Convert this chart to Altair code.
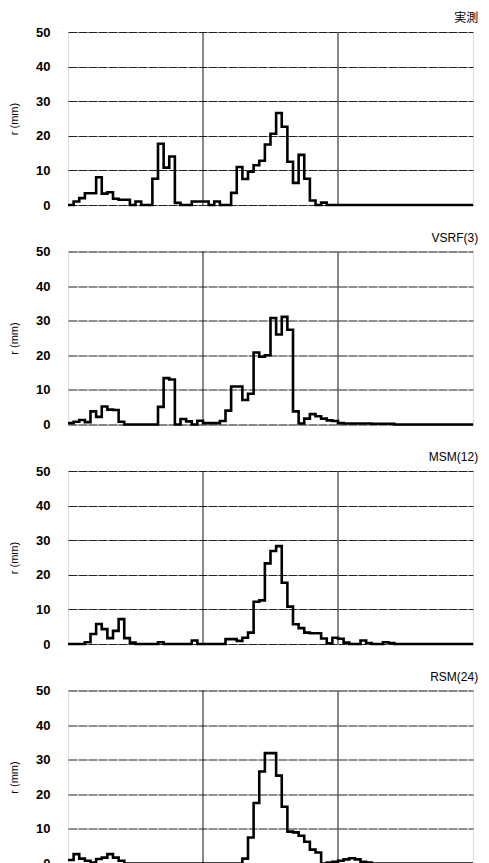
import altair as alt
import pandas as pd

titles = ["実測", "VSRF(3)", "MSM(12)", "RSM(24)"]

obs = [0, 1, 2, 3.4, 3.4, 8, 3.3, 3.7, 1.8, 1.5, 1.5, 0, 1, 0, 0, 7.6, 17.7, 10.8, 14, 0.6, 0, 0, 1, 1,
       1, 0, 1, 0, 0, 3.5, 11, 7.5, 9.6, 11.5, 12.8, 17.5, 20.6, 26.6, 22.6, 12.5, 6.4, 14.5, 7.6, 1.3, 0, 0.7, 0, 0,
       0, 0, 0, 0, 0, 0, 0, 0, 0, 0, 0, 0, 0, 0, 0, 0, 0, 0, 0, 0, 0, 0, 0, 0]
vsrf = [0.4, 0.8, 1.3, 0.7, 3.8, 2.2, 5.2, 4.3, 4.2, 0.8, 0, 0, 0, 0, 0, 0, 5.1, 13.4, 13.0, 0, 1.6, 0.9, 0, 1.1,
        0.4, 0.4, 0.4, 1, 4, 11, 11, 7.1, 8.9, 20.8, 19.6, 20, 30.8, 26, 31.1, 27.4, 3.8, 0.3, 1.7, 3, 2.4, 1.7, 1.2, 1,
        0.4, 0.3, 0.3, 0.3, 0.3, 0.3, 0.2, 0.2, 0.2, 0.2, 0, 0, 0, 0, 0, 0, 0, 0, 0, 0, 0, 0, 0, 0]
msm = [0, 0, 0, 0.5, 2.9, 5.8, 4.3, 1.7, 3.8, 7.2, 1.7, 0.4, 0, 0, 0, 0, 0.5, 0, 0, 0, 0, 0, 1, 0,
       0, 0, 0, 0, 1.4, 1.4, 0.9, 1.8, 3.3, 12.2, 12.6, 23.3, 26.9, 28.3, 17.7, 10.8, 5.7, 4.6, 3.3, 3.1, 3.1, 1.6, 0.2, 1.8,
       1.5, 0.4, 0, 0, 1, 0.3, 0, 0, 0.5, 0.3, 0, 0, 0, 0, 0, 0, 0, 0, 0, 0, 0, 0, 0, 0]
rsm = [1, 2.7, 1.4, 0.8, 0.3, 1.3, 1.7, 2.7, 1.7, 0.8, 0, 0, 0, 0, 0, 0, 0, 0, 0, 0, 0, 0, 0, 0,
       0, 0, 0, 0, 0, 0, 0, 1.4, 7.5, 17.5, 26.6, 31.9, 31.9, 25.4, 16.4, 9.2, 9, 8, 6.3, 4, 3.2, 0, 0.3, 0.5,
       0.8, 1.2, 1.5, 1.2, 0.5, 0.3, 0, 0, 0, 0, 0, 0, 0, 0, 0, 0, 0, 0, 0, 0, 0, 0, 0, 0]
series = [obs, vsrf, msm, rsm]

y_ticks = [0, 10, 20, 30, 40, 50]
day_lines = [24, 48]
n_bins = 72

FONT = "Liberation Sans, Arial, Noto Sans CJK JP, sans-serif"


def panel(title, vals):
    xs = list(range(n_bins)) + [n_bins]
    ys = list(vals) + [vals[-1]]
    df = pd.DataFrame({"t": xs, "r": ys})
    xsc = alt.Scale(domain=[0, n_bins], nice=False, zero=False)
    line = alt.Chart(df).mark_line(
        interpolate="step-after", color="black", strokeWidth=2.6
    ).encode(
        x=alt.X("t:Q", scale=xsc, axis=None),
        y=alt.Y(
            "r:Q",
            scale=alt.Scale(domain=[0, 50], nice=False),
            axis=alt.Axis(
                title="r (mm)", values=y_ticks, ticks=False, domain=False,
                grid=True, gridColor="#222222", gridWidth=1, gridDash=[9, 1],
                labelFontSize=13, labelFontWeight="bold", labelColor="black",
                labelFont=FONT, labelPadding=18,
                titleFont=FONT, titleFontSize=11, titleFontWeight="normal",
                titleColor="black", titlePadding=16,
            ),
        ),
    )
    rules = alt.Chart(pd.DataFrame({"d": day_lines})).mark_rule(
        color="#111111", strokeWidth=1
    ).encode(x=alt.X("d:Q", scale=xsc, axis=None))
    return alt.layer(rules, line).properties(
        width=405, height=173,
        title=alt.TitleParams(
            text=title, anchor="end", fontSize=12, fontWeight="normal",
            font=FONT, color="black", offset=1,
        ),
    )


chart = alt.vconcat(
    *[panel(t, v) for t, v in zip(titles, series)], spacing=17.5
).properties(
    padding={"left": 0, "top": 3, "right": 0, "bottom": 0}
).configure_view(
    stroke="black", strokeWidth=1
).configure(background="white")

chart.save("out.html", embed_options={"renderer": "svg", "actions": False})
